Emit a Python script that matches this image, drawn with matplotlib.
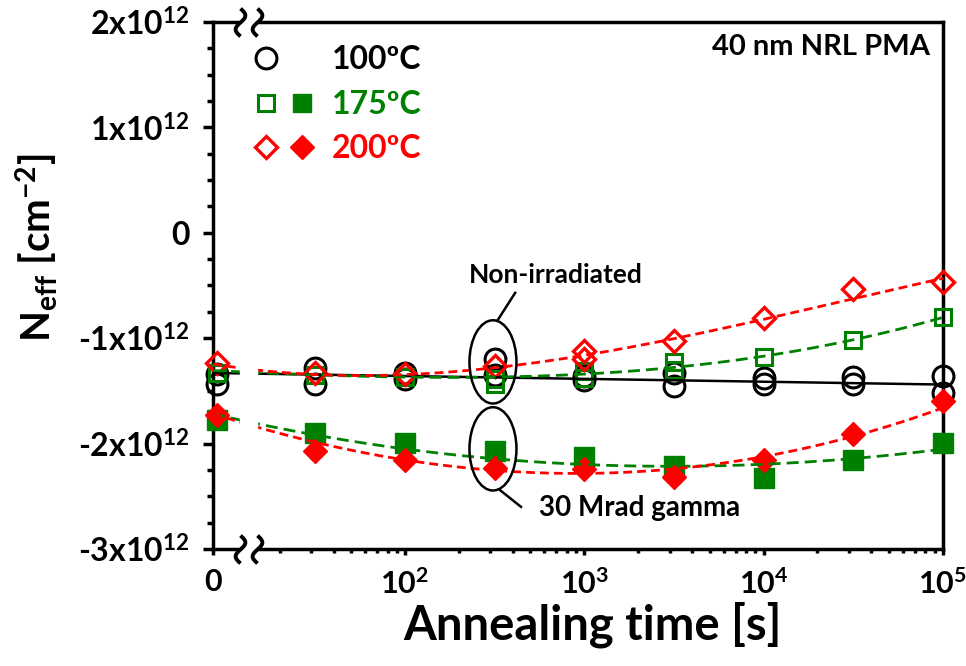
import numpy as np
import matplotlib.pyplot as plt
from matplotlib.lines import Line2D
from matplotlib.patches import Ellipse
from matplotlib.path import Path
from matplotlib.legend_handler import HandlerTuple
import matplotlib.ticker as ticker

plt.rcParams['font.family'] = ['Lato', 'DejaVu Sans']
plt.rcParams['font.weight'] = 'bold'
plt.rcParams['axes.labelweight'] = 'bold'
plt.rcParams['mathtext.fontset'] = 'custom'
plt.rcParams['mathtext.rm'] = 'Lato:bold'
plt.rcParams['mathtext.it'] = 'Lato:bold:italic'
plt.rcParams['mathtext.bf'] = 'Lato:bold'
plt.rcParams['mathtext.default'] = 'rm'

# annealing times [s]; 0 = before annealing
time_s = np.array([0, 31.6, 100, 316, 1000, 3162, 10000, 31623, 100000])

# N_eff in units of 1e12 cm^-2
n100_a = [-1.34, -1.28, -1.33, -1.20, -1.36, -1.33, -1.38, -1.37, -1.36]
n100_b = [-1.43, -1.43, -1.39, -1.35, -1.40, -1.45, -1.43, -1.43, -1.52]

n175_open_a = [-1.33, -1.35, -1.37, -1.39, -1.31, -1.23, -1.18, -1.02, -0.80]
n175_open_b = [np.nan, np.nan, np.nan, -1.43, -1.38, -1.30, np.nan, np.nan, np.nan]
n200_open_a = [-1.24, -1.33, -1.34, -1.26, -1.12, -1.03, -0.81, -0.53, -0.47]
n200_open_b = [np.nan, np.nan, np.nan, np.nan, -1.20, np.nan, np.nan, np.nan, np.nan]

n175_irr = [-1.78, -1.90, -1.99, -2.07, -2.13, -2.21, -2.33, -2.16, -1.99]
n200_irr = [-1.73, -2.07, -2.16, -2.23, -2.24, -2.32, -2.16, -1.91, -1.60]

# trend curves
fit_t = np.array([15, 31.6, 100, 316, 1000, 3162, 10000, 31623, 100000])
fit175_open = [-1.33, -1.34, -1.37, -1.38, -1.34, -1.26, -1.18, -1.02, -0.80]
fit200_open = [-1.32, -1.33, -1.33, -1.27, -1.18, -1.04, -0.82, -0.57, -0.46]
fit175_irr = [-1.81, -1.92, -2.05, -2.15, -2.19, -2.22, -2.19, -2.15, -2.05]
fit200_irr = [-1.85, -1.99, -2.13, -2.26, -2.30, -2.25, -2.11, -1.92, -1.67]
fit100_t = [8.5, 100000]
fit100 = [-1.33, -1.44]

ytick_vals = [2, 1, 0, -1, -2, -3]
ytick_labels = ['2x10$^{12}$', '1x10$^{12}$', '0', '-1x10$^{12}$', '-2x10$^{12}$', '-3x10$^{12}$']
xtick_labels = ['0', '10$^{2}$', '10$^{3}$', '10$^{4}$', '10$^{5}$']

green = '#008000'
red = '#ff0000'

x_min, x_zero, x_max = 8.5, 9.0, 1e5
xpos = np.where(time_s == 0, x_zero, time_s)

fig = plt.figure(figsize=(9.66, 6.66), dpi=100)
ax = fig.add_axes([0.2205, 0.1757, 0.7555, 0.7913])

mk = dict(linestyle='none', clip_on=False, zorder=3)
ax.plot(xpos, n100_a, marker='o', ms=15, mfc='none', mec='black', mew=2.2, **mk)
ax.plot(xpos, n100_b, marker='o', ms=15, mfc='none', mec='black', mew=2.2, **mk)
ax.plot(xpos, n175_open_a, marker='s', ms=12, mfc='none', mec=green, mew=2.2, **mk)
ax.plot(xpos, n175_open_b, marker='s', ms=12, mfc='none', mec=green, mew=2.2, **mk)
ax.plot(xpos, n200_open_a, marker='D', ms=11, mfc='none', mec=red, mew=2.4, **mk)
ax.plot(xpos, n200_open_b, marker='D', ms=11, mfc='none', mec=red, mew=2.4, **mk)
ax.plot(xpos, n175_irr, marker='s', ms=14, color=green, **mk)
ax.plot(xpos, n200_irr, marker='D', ms=12, color=red, **mk)

# trend lines
xs = np.logspace(np.log10(x_min), 5, 300)
lx = np.log10(xs)
ax.plot(fit100_t, fit100, color='black', lw=1.8, zorder=4)
for vals, col, dash in [(fit175_open, green, (4.3, 2.2)), (fit200_open, red, (3.2, 1.8)),
                        (fit175_irr, green, (4.3, 2.2)), (fit200_irr, red, (3.2, 1.8))]:
    coef = np.polyfit(np.log10(fit_t), vals, 3)
    ax.plot(xs, np.polyval(coef, lx), color=col, lw=2, dashes=dash, zorder=4)

ax.set_xscale('log')
ax.set_xlim(x_min, x_max)
ax.set_ylim(-3, 2)

ax.xaxis.set_major_locator(ticker.FixedLocator([x_min, 1e2, 1e3, 1e4, 1e5]))
ax.xaxis.set_major_formatter(ticker.FixedFormatter(xtick_labels))
ax.xaxis.set_minor_locator(ticker.FixedLocator(
    [m * 10 ** d for d in range(1, 5) for m in range(2, 10)]))
ax.xaxis.set_minor_formatter(ticker.NullFormatter())
ax.yaxis.set_major_locator(ticker.FixedLocator(ytick_vals))
ax.yaxis.set_major_formatter(ticker.FixedFormatter(ytick_labels))
ax.yaxis.set_minor_locator(ticker.MultipleLocator(0.25))

ax.tick_params(axis='both', which='major', direction='out', width=2.5)
ax.tick_params(axis='y', which='major', length=7, pad=10, labelsize=23)
ax.tick_params(axis='x', which='major', length=4, pad=10, labelsize=22)
ax.tick_params(axis='y', which='minor', direction='out', length=4, width=2.5)
ax.tick_params(axis='x', which='minor', direction='out', length=3, width=2.5)
for s in ax.spines.values():
    s.set_linewidth(2.5)

# axis break
ax.axvspan(12.0, 15.0, ymin=-0.02, ymax=1.02, color='white', clip_on=False, zorder=5)
tt = np.linspace(-1, 1, 40)
squig = Path(np.column_stack([0.35 * np.sin(np.pi * tt), tt]))
for xb in [12.0, 15.0]:
    ax.plot([xb, xb], [0, 1], transform=ax.get_xaxis_transform(), linestyle='none',
            marker=squig, ms=20, mfc='none', mec='black', mew=2.8, clip_on=False, zorder=6)

ax.set_xlabel('Annealing time [s]', fontsize=34)
ax.xaxis.set_label_coords(0.52, -0.1)
ax.set_ylabel(r'N$_{\mathrm{eff}}$ [cm$^{-2}$]', fontsize=29)
ax.yaxis.set_label_coords(-0.21, 0.571)

# ellipses and annotations
for yc in [0.355, 0.19]:
    ax.add_patch(Ellipse((0.3836, yc), 0.0644, 0.158, transform=ax.transAxes,
                         fill=False, ec='black', lw=1.8, zorder=7))
ax.plot([0.390, 0.414], [0.434, 0.486], transform=ax.transAxes, color='black', lw=1.8, zorder=7)
ax.plot([0.393, 0.422], [0.112, 0.080], transform=ax.transAxes, color='black', lw=1.8, zorder=7)
ax.text(0.47, 0.52, 'Non-irradiated', transform=ax.transAxes, fontsize=19,
        ha='center', va='center', zorder=8)
ax.text(0.585, 0.078, '30 Mrad gamma', transform=ax.transAxes, fontsize=20,
        ha='center', va='center', zorder=8)
ax.text(0.982, 0.953, '40 nm NRL PMA', transform=ax.transAxes, fontsize=21,
        ha='right', va='center', zorder=8)

# legend
blank = Line2D([], [], linestyle='none')
h_c = Line2D([], [], linestyle='none', marker='o', ms=15, mfc='none', mec='black', mew=2.2)
h_so = Line2D([], [], linestyle='none', marker='s', ms=12, mfc='none', mec=green, mew=2.2)
h_sf = Line2D([], [], linestyle='none', marker='s', ms=13, color=green)
h_do = Line2D([], [], linestyle='none', marker='D', ms=11, mfc='none', mec=red, mew=2.4)
h_df = Line2D([], [], linestyle='none', marker='D', ms=12, color=red)
leg = ax.legend([(h_c, blank), (h_so, h_sf), (h_do, h_df)],
                ['100ºC', '175ºC', '200ºC'],
                handler_map={tuple: HandlerTuple(ndivide=None, pad=0.27)},
                loc='upper left', bbox_to_anchor=(0.014, 1.01), frameon=False,
                fontsize=23, handlelength=2.0, handletextpad=0.5, labelspacing=0.48)
for txt, col in zip(leg.get_texts(), ['black', green, red]):
    txt.set_color(col)

fig.savefig('out.png', dpi=100)
